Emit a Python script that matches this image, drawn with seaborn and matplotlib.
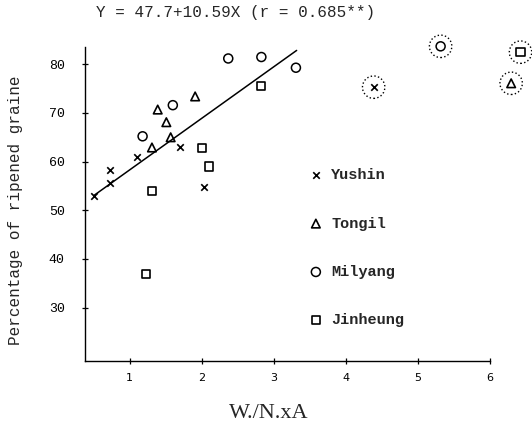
import seaborn as sns
import matplotlib.pyplot as plt

# values
yushin_x = [0.50, 0.73, 0.73, 1.10, 1.70, 2.03, 4.39]
yushin_y = [53.0, 55.5, 58.2, 60.9, 63.0, 54.8, 75.3]
tongil_x = [1.31, 1.39, 1.51, 1.57, 1.91, 6.30]
tongil_y = [62.9, 70.7, 68.1, 65.0, 73.4, 76.1]
milyang_x = [1.18, 1.60, 2.37, 2.83, 3.31, 5.32]
milyang_y = [65.2, 71.6, 81.2, 81.5, 79.3, 83.7]
jinheung_x = [1.23, 1.31, 2.00, 2.10, 2.82, 6.43]
jinheung_y = [36.9, 53.9, 62.8, 59.0, 75.5, 82.5]

# circled (excluded) points
circled_x = [4.39, 5.32, 6.30, 6.43]
circled_y = [75.3, 83.7, 76.1, 82.5]

# regression Y = 47.7 + 10.59 X over the fitted range
fit_x = [0.50, 3.32]
fit_y = [47.7 + 10.59 * v for v in fit_x]

sns.set_style('ticks')
plt.rcParams['font.family'] = ['Liberation Mono', 'DejaVu Sans']

fig = plt.figure(figsize=(5.32, 4.29), dpi=100)
ax = fig.add_axes([85 / 532, 68 / 429, 442 / 532, 321 / 429])

sns.lineplot(x=fit_x, y=fit_y, color='black', lw=1.1, ax=ax)

sns.scatterplot(x=yushin_x, y=yushin_y, marker='x', s=22, color='black',
                linewidth=1.2, label='Yushin', ax=ax)
sns.scatterplot(x=tongil_x, y=tongil_y, marker='^', s=38, facecolor='none',
                edgecolor='black', linewidth=1.2, label='Tongil', ax=ax)
sns.scatterplot(x=milyang_x, y=milyang_y, marker='o', s=42, facecolor='none',
                edgecolor='black', linewidth=1.1, label='Milyang', ax=ax)
sns.scatterplot(x=jinheung_x, y=jinheung_y, marker='s', s=34, facecolor='none',
                edgecolor='black', linewidth=1.2, label='Jinheung', ax=ax)
sns.scatterplot(x=circled_x, y=circled_y, marker='o', s=260, facecolor='none',
                edgecolor='black', linewidth=1.0, linestyle=':', clip_on=False,
                ax=ax)
for coll in ax.collections:
    coll.set_clip_on(False)

ax.set_xlim(0.38, 6.52)
ax.set_ylim(19, 85)
ax.set_xticks([1, 2, 3, 4, 5, 6])
ax.set_yticks([30, 40, 50, 60, 70, 80])
ax.tick_params(direction='inout', length=5, width=0.9, colors='black')
ax.tick_params(axis='x', labelsize=8, pad=6)
ax.tick_params(axis='y', labelsize=9.5, pad=12)
for lab in ax.get_xticklabels():
    lab.set_family('DejaVu Sans')
sns.despine(ax=ax)
ax.spines['left'].set_bounds(19, 83.5)
ax.spines['bottom'].set_bounds(0.38, 6.0)
for sp in ('left', 'bottom'):
    ax.spines[sp].set_linewidth(1.0)
    ax.spines[sp].set_color('black')

ax.set_xlabel('')
ax.set_ylabel('')
fig.text(16 / 532, 1 - 210 / 429, 'Percentage of ripened graine', rotation=90,
         ha='center', va='center', fontsize=11.5)
fig.text(269 / 532, 1 - 413 / 429, 'W./N.xA', ha='center', va='center',
         fontsize=16, family='Liberation Serif')
fig.text(236 / 532, 1 - 13 / 429, 'Y = 47.7+10.59X (r = 0.685**)',
         ha='center', va='center', fontsize=11.5)

leg = ax.legend(loc='upper left', bbox_to_anchor=(296 / 532, 1 - 156 / 429),
                bbox_transform=fig.transFigure, frameon=False,
                prop={'family': 'Liberation Mono', 'weight': 'bold', 'size': 11},
                labelspacing=2.25, handlelength=1.0, handletextpad=0.5,
                borderpad=0.3)

fig.savefig('out.png', dpi=100)
